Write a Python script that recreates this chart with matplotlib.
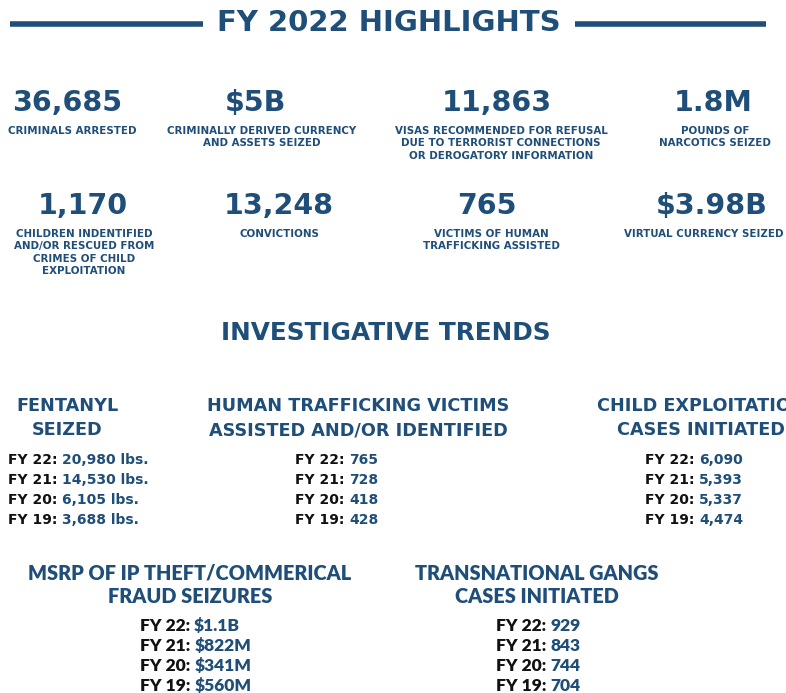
import matplotlib.pyplot as plt
from matplotlib.lines import Line2D

BLUE = "#1f4e79"
DARK = "#111111"

# highlight figures
top_values = ["36,685", "$5B", "11,863", "1.8M"]
top_labels = ["CRIMINALS ARRESTED",
              "CRIMINALLY DERIVED CURRENCY\nAND ASSETS SEIZED",
              "VISAS RECOMMENDED FOR REFUSAL\nDUE TO TERRORIST CONNECTIONS\nOR DEROGATORY INFORMATION",
              "POUNDS OF\nNARCOTICS SEIZED"]
bottom_values = ["1,170", "13,248", "765", "$3.98B"]
bottom_labels = ["CHILDREN INDENTIFIED\nAND/OR RESCUED FROM\nCRIMES OF CHILD\nEXPLOITATION",
                 "CONVICTIONS",
                 "VICTIMS OF HUMAN\nTRAFFICKING ASSISTED",
                 "VIRTUAL CURRENCY SEIZED"]

# investigative trends
years = ["FY 22:", "FY 21:", "FY 20:", "FY 19:"]
fentanyl = ["20,980 lbs.", "14,530 lbs.", "6,105 lbs.", "3,688 lbs."]
trafficking = ["765", "728", "418", "428"]
child_cases = ["6,090", "5,393", "5,337", "4,474"]
ip_theft = ["$1.1B", "$822M", "$341M", "$560M"]
gangs = ["929", "843", "744", "704"]

fig = plt.figure(figsize=(7.86, 6.93), dpi=100)
ax = fig.add_axes([0, 0, 1, 1])
ax.set_xlim(0, 786)
ax.set_ylim(693, 0)
ax.axis("off")

FONT = "DejaVu Sans"

# title with rules either side
ax.text(389, 23, "FY 2022 HIGHLIGHTS", ha="center", va="center", fontsize=21,
        fontweight="bold", color=BLUE, family=FONT)
ax.add_line(Line2D([10, 203], [24, 24], lw=4, color=BLUE, solid_capstyle="butt"))
ax.add_line(Line2D([575, 766], [24, 24], lw=4, color=BLUE, solid_capstyle="butt"))

def stat(x, y, value, label, lx=None):
    ax.text(x, y, value, ha="center", va="center", fontsize=20.5, fontweight="bold",
            color=BLUE, family=FONT)
    ax.text(lx if lx is not None else x, y + 23, label, ha="center", va="top",
            fontsize=7.4, fontweight="bold", color=BLUE, family=FONT, linespacing=1.3)

top_x = [67, 255, 497, 713]
top_lx = [72, 262, 501, 715]
for x, lx, v, l in zip(top_x, top_lx, top_values, top_labels):
    stat(x, 103, v, l, lx)

bot_x = [83, 279, 487, 712]
bot_lx = [84, 279, 491, 704]
for x, lx, v, l in zip(bot_x, bot_lx, bottom_values, bottom_labels):
    stat(x, 206, v, l, lx)

ax.text(386, 333, "INVESTIGATIVE TRENDS", ha="center", va="center", fontsize=17.8,
        fontweight="bold", color=BLUE, family=FONT)

renderer = fig.canvas.get_renderer()

def trend(cx, y, title, x0, values, family=FONT, tsize=12.7, dsize=10,
          weight="bold", offset=42, gap=20, spacing=1.45):
    ax.text(cx, y, title, ha="center", va="center", fontsize=tsize, fontweight=weight,
            color=BLUE, family=family, linespacing=spacing)
    for i, (yr, v) in enumerate(zip(years, values)):
        yy = y + offset + i * gap
        t = ax.text(x0, yy, yr + " ", ha="left", va="center", fontsize=dsize,
                    fontweight=weight, color=DARK, family=family)
        bb = t.get_window_extent(renderer)
        w = bb.width * 786 / fig.bbox.width
        ax.text(x0 + w, yy, v, ha="left", va="center", fontsize=dsize,
                fontweight=weight, color=BLUE, family=family)

trend(67, 418, "FENTANYL\nSEIZED", 8, fentanyl)
trend(358, 418, "HUMAN TRAFFICKING VICTIMS\nASSISTED AND/OR IDENTIFIED", 295, trafficking)
trend(701, 418, "CHILD EXPLOITATION\nCASES INITIATED", 645, child_cases)

NARROW = "Lato"
trend(190, 585, "MSRP OF IP THEFT/COMMERICAL\nFRAUD SEIZURES", 140, ip_theft,
      family=NARROW, tsize=14.3, dsize=12.5, weight="heavy", offset=41, spacing=1.25)
trend(537, 585, "TRANSNATIONAL GANGS\nCASES INITIATED", 496, gangs,
      family=NARROW, tsize=14.3, dsize=12.5, weight="heavy", offset=41, spacing=1.25)

fig.savefig("out.png", dpi=100)
